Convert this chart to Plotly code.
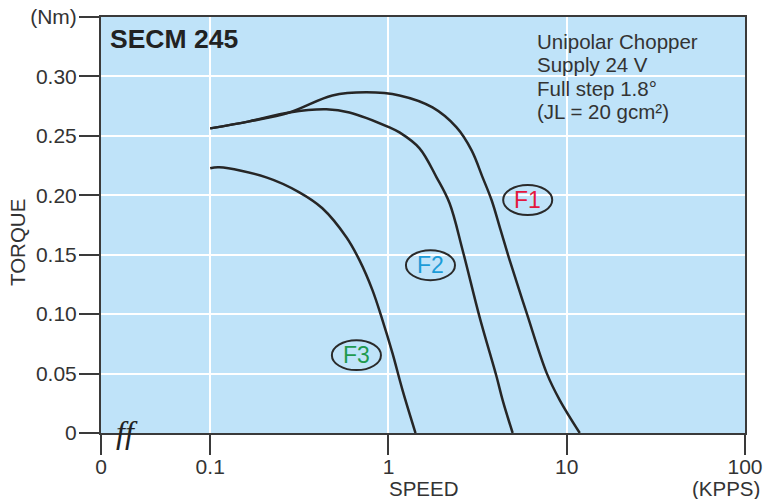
import math
import plotly.graph_objects as go

# ---- data ----
f1_speed = [0.1, 0.1656, 0.278, 0.4845, 0.752, 1.153, 1.767, 2.41, 2.927, 3.373, 3.791, 4.259, 4.784, 5.962, 7.72, 9.135, 11.83]
f1_torque = [0.2563, 0.2622, 0.2697, 0.2840, 0.2866, 0.2840, 0.2739, 0.2571, 0.2378, 0.2151, 0.1958, 0.1706, 0.1454, 0.1008, 0.0504, 0.0277, 0.0]

f2_speed = [0.1, 0.1656, 0.278, 0.4484, 0.6038, 1.013, 1.153, 1.494, 1.861, 2.202, 2.606, 3.245, 4.045, 4.369, 4.973]
f2_torque = [0.2563, 0.2622, 0.2697, 0.2723, 0.2697, 0.2571, 0.2529, 0.2395, 0.2151, 0.1933, 0.1538, 0.0975, 0.0471, 0.0277, 0.0]

f3_speed = [0.1, 0.1124, 0.2063, 0.3162, 0.4257, 0.5808, 0.6874, 0.8131, 0.9253, 1.053, 1.199, 1.418]
f3_torque = [0.2227, 0.2235, 0.2151, 0.2025, 0.1891, 0.1647, 0.1454, 0.1202, 0.0950, 0.0672, 0.0361, 0.0]

x_zero = 0.0244  # position of the "0" on the broken log axis
x_tickvals = [x_zero, 0.1, 1, 10, 100]
x_ticktext = ["0", "0.1", "1", "10", "100"]
y_tickvals = [0, 0.05, 0.10, 0.15, 0.20, 0.25, 0.30, 0.35]
y_ticktext = ["0", "0.05", "0.10", "0.15", "0.20", "0.25", "0.30", "(Nm)"]

curve_names = ["F1", "F2", "F3"]
label_speed = [6.04, 1.72, 0.661]
label_torque = [0.196, 0.1412, 0.0655]
label_colors = ["#e3173e", "#1b9bd7", "#1f9a4f"]

info_lines = ["Unipolar Chopper", "Supply 24 V", "Full step 1.8°", "(JL = 20 gcm²)"]

# ---- figure ----
FONT = "Liberation Sans, Arial, sans-serif"
TXT = "#333333"
AX = "#3a3a3a"
W, H = 763, 499
ML, MR, MT, MB = 101, 18, 17, 66
pw, ph = W - ML - MR, H - MT - MB


def px(x):
    return (x - ML) / pw


def py(y):
    return (H - y - MB) / ph


fig = go.Figure()
for xs, ys, nm in [(f1_speed, f1_torque, "F1"), (f2_speed, f2_torque, "F2"), (f3_speed, f3_torque, "F3")]:
    fig.add_trace(go.Scatter(x=xs, y=ys, mode="lines", name=nm,
                             line=dict(color="#262626", width=2.5, shape="spline", smoothing=1.0),
                             hoverinfo="skip"))

# curve labels with ellipses (half-width 0.1376 decades, half-height 0.0126 Nm)
for nm, sx, sy, col in zip(curve_names, label_speed, label_torque, label_colors):
    fig.add_shape(type="circle", xref="x", yref="y",
                  x0=sx / 10 ** 0.1376, x1=sx * 10 ** 0.1376, y0=sy - 0.0126, y1=sy + 0.0126,
                  line=dict(color="#2a2a2a", width=2), fillcolor="rgba(0,0,0,0)")
    fig.add_annotation(x=math.log10(sx), y=sy, xref="x", yref="y", text=nm, showarrow=False,
                       font=dict(family=FONT, size=23, color=col), xanchor="center", yanchor="middle")

# title
fig.add_annotation(x=px(108), y=py(39), xref="paper", yref="paper", text="<b>SECM 245</b>", showarrow=False,
                   font=dict(family=FONT, size=26.5, color="#222222"), xanchor="left", yanchor="middle")

# info block
for i, t in enumerate(info_lines):
    fig.add_annotation(x=px(535), y=py(41 + 23.6 * i), xref="paper", yref="paper", text=t, showarrow=False,
                       font=dict(family=FONT, size=20.5, color=TXT), xanchor="left", yanchor="middle")

# axis titles
fig.add_annotation(x=px(17), y=py(243), xref="paper", yref="paper", text="TORQUE", textangle=-90, showarrow=False,
                   font=dict(family=FONT, size=20.5, color=TXT), xanchor="center", yanchor="middle")
fig.add_annotation(x=px(424), y=py(488), xref="paper", yref="paper", text="SPEED", showarrow=False,
                   font=dict(family=FONT, size=20.5, color=TXT), xanchor="center", yanchor="middle")
fig.add_annotation(x=px(762), y=py(488), xref="paper", yref="paper", text="(KPPS)", showarrow=False,
                   font=dict(family=FONT, size=20.5, color=TXT), xanchor="right", yanchor="middle")

# axis break mark
fig.add_annotation(x=px(127), y=py(432), xref="paper", yref="paper", text="<i>ff</i>", showarrow=False,
                   font=dict(family="Liberation Serif, serif", size=32, color="#222222"),
                   xanchor="center", yanchor="middle")

fig.update_layout(
    width=W, height=H,
    margin=dict(l=ML, r=MR, t=MT, b=MB, pad=0, autoexpand=False),
    paper_bgcolor="white", plot_bgcolor="#bfe3f9",
    showlegend=False, hovermode=False,
    font=dict(family=FONT, size=21, color=TXT),
)
fig.update_xaxes(type="log", range=[math.log10(x_zero), 2], automargin=False,
                 tickmode="array", tickvals=x_tickvals, ticktext=x_ticktext,
                 ticks="outside", ticklen=20, tickwidth=2, tickcolor=AX,
                 ticklabelstandoff=-6,
                 showline=True, linecolor=AX, linewidth=2, mirror=True,
                 showgrid=True, gridcolor="white", gridwidth=2, zeroline=False,
                 tickfont=dict(family=FONT, size=21, color=TXT))
fig.update_yaxes(range=[0, 0.35], automargin=False,
                 tickmode="array", tickvals=y_tickvals, ticktext=y_ticktext,
                 ticks="outside", ticklen=20, tickwidth=2, tickcolor=AX,
                 ticklabelstandoff=-2,
                 showline=True, linecolor=AX, linewidth=2, mirror=True,
                 showgrid=True, gridcolor="white", gridwidth=2, zeroline=False,
                 tickfont=dict(family=FONT, size=21, color=TXT))

fig.write_html("out.html", config={"displayModeBar": False},
               post_script="document.body.style.margin='0';document.body.style.overflow='hidden';")
